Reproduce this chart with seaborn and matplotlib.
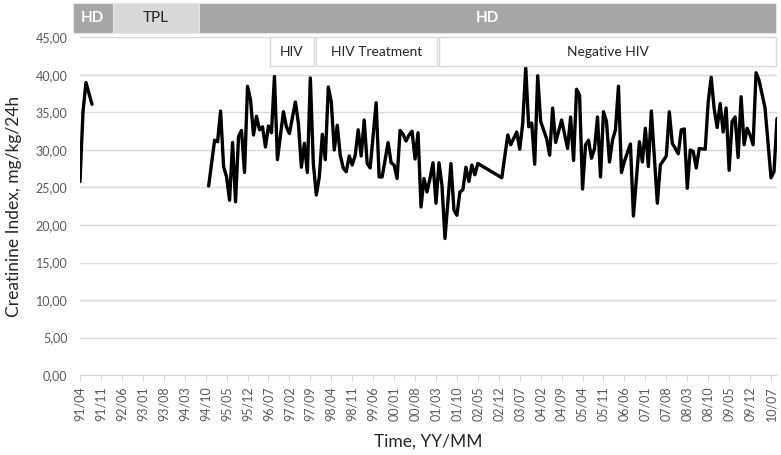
import numpy as np
import pandas as pd
import matplotlib
matplotlib.use("Agg")
import matplotlib.pyplot as plt
import matplotlib.transforms as mtransforms
from matplotlib.patches import Rectangle
import seaborn as sns

# month index counted from 1991/04
seg1_months = [0, 1, 2, 4]
seg1_values = [25.8, 35.1, 39.0, 36.1]

seg2_months = [43, 45, 46, 47, 48, 49, 50, 51, 52, 53, 54, 55, 56, 57, 58, 59, 60, 61, 62, 63,
               64, 65, 66, 68, 69, 70, 72, 73, 74, 75, 76, 77, 78, 79, 80, 81, 82, 83, 84, 85,
               86, 87, 88, 89, 90, 91, 92, 93, 94, 95, 96, 97, 99, 100, 101, 103, 104, 105, 106, 107,
               108, 109, 110, 111, 112, 113, 114, 115, 116, 117, 118, 119, 120, 121, 122, 124, 125, 126, 127, 128,
               129, 130, 131, 132, 133, 141, 143, 144, 146, 147, 148, 149, 150, 151, 152, 153, 154, 156, 157, 158,
               159, 161, 162, 163, 164, 165, 166, 167, 168, 169, 170, 171, 172, 173, 174, 175, 176, 177, 178, 179,
               180, 181, 182, 184, 185, 187, 188, 189, 190, 191, 193, 194, 196, 197, 198, 199, 200, 201, 202, 203,
               204, 205, 206, 207, 209, 210, 211, 212, 213, 214, 215, 216, 217, 218, 219, 220, 221, 222, 223, 224,
               225, 226, 227, 229, 231, 232, 233]
seg2_values = [25.2, 31.3, 31.1, 35.2, 27.8, 26.4, 23.3, 31.0, 23.1, 31.8, 32.6, 27.0, 38.5, 36.7, 32.0, 34.5, 32.7, 33.1, 30.4, 33.2,
               32.3, 39.8, 28.7, 35.1, 33.1, 32.2, 36.4, 33.6, 27.7, 30.9, 27.0, 39.6, 28.2, 24.0, 26.4, 32.1, 28.7, 38.4, 36.4, 30.0,
               33.3, 29.3, 27.6, 27.1, 29.2, 28.0, 29.3, 32.7, 29.2, 34.0, 28.2, 27.6, 36.3, 26.4, 26.4, 31.0, 28.3, 28.0, 26.2, 32.6,
               32.1, 31.2, 32.0, 32.5, 28.8, 32.3, 22.4, 26.2, 24.4, 26.2, 28.3, 22.9, 28.3, 25.3, 18.2, 28.2, 22.0, 21.3, 24.4, 24.7,
               27.7, 25.8, 28.0, 26.7, 28.2, 26.3, 32.0, 30.7, 32.4, 30.1, 33.6, 41.0, 33.1, 33.6, 28.1, 39.9, 33.8, 31.5, 29.3, 35.6,
               31.0, 34.0, 32.1, 30.2, 34.4, 28.6, 38.1, 37.3, 24.8, 30.7, 31.3, 28.9, 30.2, 34.4, 26.4, 35.1, 33.8, 28.4, 31.3, 32.7,
               38.5, 27.0, 28.5, 30.8, 21.2, 31.1, 28.4, 32.9, 27.8, 35.2, 22.9, 28.0, 29.2, 35.1, 30.9, 30.2, 29.5, 32.7, 32.8, 24.9,
               30.0, 29.8, 27.6, 30.2, 30.1, 36.4, 39.7, 35.5, 33.0, 36.2, 32.4, 35.6, 27.3, 33.8, 34.4, 29.0, 37.1, 30.7, 32.9, 32.0,
               30.7, 40.3, 39.3, 35.6, 26.3, 27.1, 34.2]

tick_labels = ["91/04", "91/11", "92/06", "93/01", "93/08", "94/03", "94/10", "95/05", "95/12",
               "96/07", "97/02", "97/09", "98/04", "98/11", "99/06", "00/01", "00/08", "01/03",
               "01/10", "02/05", "02/12", "03/07", "04/02", "04/09", "05/04", "05/11", "06/06",
               "07/01", "07/08", "08/03", "08/10", "09/05", "09/12", "10/07"]

# treatment periods (start, end in month index)
top_periods = [("HD", -2.3, 10.9), ("TPL", 10.9, 39.9), ("HD", 39.9, 232.7)]
hiv_periods = [("HIV", 63.6, 78.1), ("HIV Treatment", 79.0, 119.2), ("Negative HIV", 120.1, 232.8)]

df = pd.concat([
    pd.DataFrame({"month": seg1_months, "value": seg1_values, "segment": 1}),
    pd.DataFrame({"month": seg2_months, "value": seg2_values, "segment": 2}),
])

sns.set_style("white")
plt.rcParams["font.family"] = ["Lato", "DejaVu Sans"]

fig = plt.figure(figsize=(7.81, 4.55), dpi=100)
ax = fig.add_axes([80 / 781, 80 / 455, 697 / 781, 337.5 / 455])

sns.lineplot(data=df, x="month", y="value", units="segment", estimator=None,
             color="black", linewidth=2.4, ax=ax)

ax.set_xlim(0, 233)
ax.set_ylim(0, 45)
ax.set_yticks(np.arange(0, 46, 5))
ax.set_yticklabels([f"{v:.2f}".replace(".", ",") for v in np.arange(0, 46, 5)])
ax.set_xticks(np.arange(0, 7 * len(tick_labels), 7))
ax.set_xticklabels(tick_labels, rotation=90)
ax.grid(axis="y", color="#d9d9d9", linewidth=1)
ax.set_axisbelow(True)
for s in ["top", "right", "left"]:
    ax.spines[s].set_visible(False)
ax.spines["bottom"].set_color("#d9d9d9")
ax.tick_params(axis="y", length=0, pad=9, labelsize=9, labelcolor="#595959")
ax.tick_params(axis="x", length=4, color="#d9d9d9", pad=4, labelsize=9, labelcolor="#595959", bottom=True)
ax.set_xlabel("Time, YY/MM", fontsize=12.5, color="#262626", labelpad=9)
ax.set_ylabel("Creatinine Index, mg/kg/24h", fontsize=12.5, color="#262626", labelpad=10)

trans = mtransforms.blended_transform_factory(ax.transData, ax.transAxes)
for name, x0, x1 in top_periods:
    dark = name == "HD"
    ax.add_patch(Rectangle((x0, 1.0124), x1 - x0, 0.0889, transform=trans, clip_on=False,
                           facecolor="#a6a6a6" if dark else "#d9d9d9", edgecolor="#e6e6e6", linewidth=0.8))
    ax.text((x0 + x1) / 2, 1.0568, name, transform=trans, ha="center", va="center",
            fontsize=11, fontweight="bold" if dark else "normal",
            color="white" if dark else "#262626")

for name, x0, x1 in hiv_periods:
    ax.add_patch(Rectangle((x0, 0.9164), x1 - x0, 0.0842, transform=trans, clip_on=False,
                           facecolor="white", edgecolor="#d9d9d9", linewidth=1, zorder=3))
    ax.text((x0 + x1) / 2, 0.9585, name, transform=trans, ha="center", va="center",
            fontsize=10, color="#262626", zorder=4)

fig.savefig("out.png", dpi=100)
